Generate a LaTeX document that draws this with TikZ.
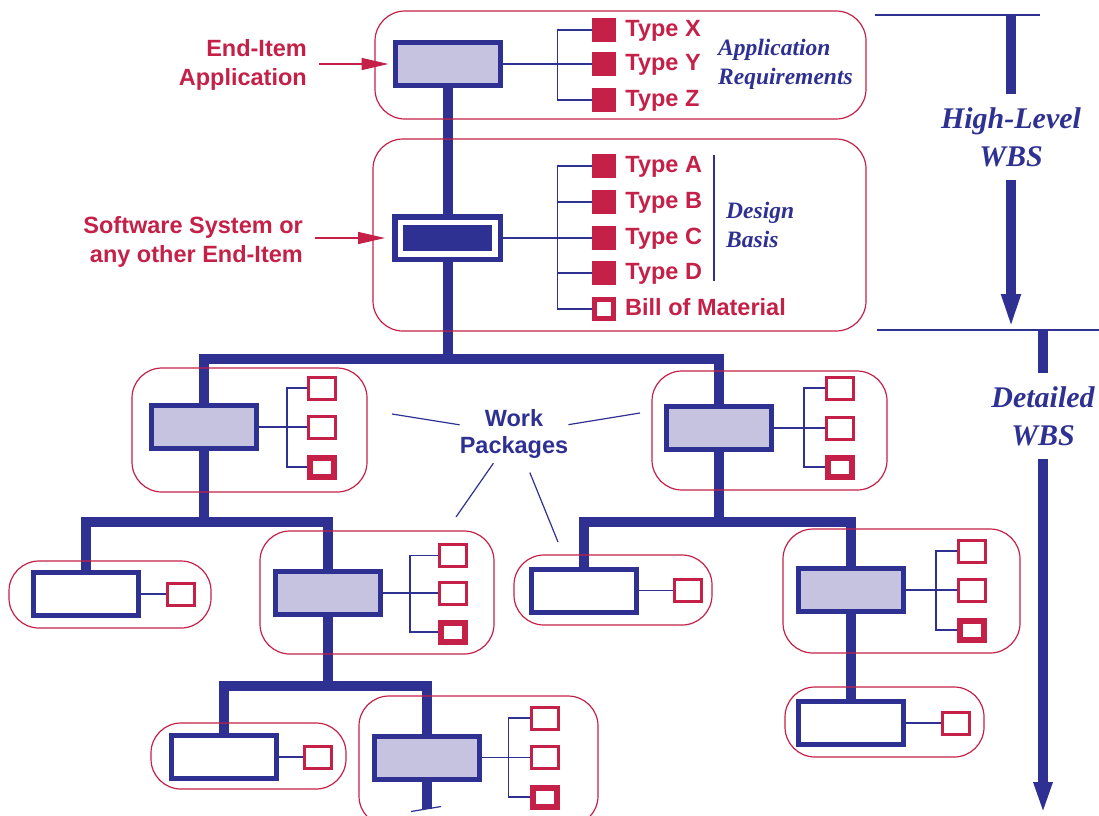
\documentclass[tikz,border=0pt]{standalone}
\usepackage{fontspec}
\setmainfont{Liberation Sans}
\newfontfamily\wbsserif{Liberation Serif}
\usetikzlibrary{arrows.meta, positioning, calc}
\definecolor{wbsblue}{RGB}{46,49,146}
\definecolor{wbslav}{RGB}{197,195,224}
\definecolor{wbsred}{RGB}{196,32,72}
\tikzstyle{package} = [rectangle, 
minimum width=105pt, 
minimum height=43pt, 
inner sep=0pt, 
line width=5pt, 
draw=wbsblue, 
fill=wbslav]
\tikzstyle{leaf} = [package, fill=white]
\tikzstyle{system} = [rectangle, 
minimum width=94.5pt, 
minimum height=31.5pt, 
inner sep=0pt, 
line width=5.5pt, 
draw=wbsblue, 
fill=wbsblue, 
double=white, 
double distance=5.5pt, 
outer sep=8.25pt]
\tikzstyle{req} = [rectangle, minimum size=24pt, inner sep=0pt, fill=wbsred]
\tikzstyle{bom} = [rectangle, minimum size=19pt, inner sep=0pt, line width=5pt, draw=wbsred, fill=white]
\tikzstyle{wpitem} = [rectangle, minimum width=27pt, minimum height=22pt, inner sep=0pt, line width=3pt, draw=wbsred, fill=white]
\tikzstyle{wplast} = [wpitem, minimum width=24pt, minimum height=19pt, line width=6pt]
\tikzstyle{frame} = [draw=wbsred, line width=1.2pt, rounded corners=30pt]
\tikzstyle{trunk} = [line width=10pt, draw=wbsblue, line join=miter]
\tikzstyle{link} = [line width=1.2pt, draw=wbsblue]
\tikzstyle{redtext} = [text=wbsred, inner sep=0pt, font=\fontsize{23.5}{29}\selectfont\bfseries]
\tikzstyle{typelabel} = [redtext, text height=17pt, text depth=4pt]
\tikzstyle{bluetext} = [text=wbsblue, font=\fontsize{23.5}{27}\selectfont\bfseries]
\tikzstyle{note} = [text=wbsblue, inner sep=0pt, align=left, font=\wbsserif\fontsize{23.5}{29}\selectfont\bfseries\itshape]
\tikzstyle{wbslevel} = [text=wbsblue, inner xsep=0pt, inner ysep=13pt, align=center, font=\wbsserif\fontsize{30}{38}\selectfont\bfseries\itshape]
\tikzstyle{pointer} = [line width=1.5pt, draw=wbsred, -{Triangle[length=27pt, width=12pt]}]
\tikzstyle{bigarrow} = [line width=10pt, draw=wbsblue, -{Triangle[length=36pt, width=17pt]}]
\begin{document}
\begin{tikzpicture}[x=1pt, y=-1pt]
  \clip (0,0) rectangle (1099,815);

  % high-level WBS
  \node (app) [package] at (447.5,64) {};
  \node (sys) [system] at (447.5,238) {};

  \node (applbl) [redtext, align=right, anchor=east] at (307,65) {End-Item\\Application};
  \node (syslbl) [redtext, align=right, anchor=east] at (303,241.5) {Software System or\\any other End-Item};
  \draw [pointer, shorten <=12pt, shorten >=4pt] (applbl.east |- app.west) -- (app.west);
  \draw [pointer, shorten <=12pt, shorten >=7pt] (syslbl.east |- sys.west) -- (sys.west);

  \node (tX) [req] at (604,30) {};
  \node (tY) [req] at (604,64) {};
  \node (tZ) [req] at (604,100) {};
  \node (tXl) [typelabel, right=9pt of tX] {Type X};
  \node (tYl) [typelabel, right=9pt of tY] {Type Y};
  \node (tZl) [typelabel, right=9pt of tZ] {Type Z};
  \draw [link] (app.east) -- (tY.west);
  \draw [link] (tX.west) -- ++(-34,0) |- (tZ.west);
  \node (appreq) [note, anchor=west] at (718,64.5) {Application\\Requirements};

  \node (tA) [req] at (604,166) {};
  \node (tB) [req] at (604,202) {};
  \node (tC) [req] at (604,238) {};
  \node (tD) [req] at (604,273) {};
  \node (bill) [bom] at (604,309) {};
  \node (tAl) [typelabel, right=9pt of tA] {Type A};
  \node (tBl) [typelabel, right=9pt of tB] {Type B};
  \node (tCl) [typelabel, right=9pt of tC] {Type C};
  \node (tDl) [typelabel, right=9pt of tD] {Type D};
  \node (billl) [typelabel, right=9pt of bill] {Bill of Material};
  \draw [link] (sys.east) -- (tC.west);
  \draw [link] (tA.west) -- ++(-34,0) |- (bill.west);
  \draw [link] (tB.west) -- ++(-34,0);
  \draw [link] (tD.west) -- ++(-34,0);
  \draw [link] (714,155) -- (714,281);
  \node (basis) [note, anchor=west] at (726,225) {Design\\Basis};

  % detailed WBS
  \node (wpA) [package] at (204,427) {};
  \node (wpB) [package] at (718.5,428) {};
  \node (a1) [wpitem] at (322,388) {};
  \node (a2) [wpitem] at (322,427) {};
  \node (a3) [wplast] at (322,467) {};
  \node (b1) [wpitem] at (840,388) {};
  \node (b2) [wpitem] at (840,428) {};
  \node (b3) [wplast] at (840,467) {};
  \draw [link] (wpA.east) -- (a2.west);
  \draw [link] (a1.west) -- ++(-20,0) |- (a3.west);
  \draw [link] (wpB.east) -- (b2.west);
  \draw [link] (b1.west) -- ++(-21,0) |- (b3.west);

  \node (lfA) [leaf] at (86,594) {};
  \node (wpC) [package] at (328,593) {};
  \node (lfB) [leaf] at (584,590.5) {};
  \node (wpD) [package] at (851,590) {};
  \node (lfAx) [wpitem] at (181,594) {};
  \node (lfBx) [wpitem] at (688,590.5) {};
  \node (c1) [wpitem] at (453,555.5) {};
  \node (c2) [wpitem] at (453,593) {};
  \node (c3) [wplast] at (453,632) {};
  \node (d1) [wpitem] at (972,551) {};
  \node (d2) [wpitem] at (972,590) {};
  \node (d3) [wplast] at (972,630) {};
  \draw [link] (lfA.east) -- (lfAx.west);
  \draw [link] (lfB.east) -- (lfBx.west);
  \draw [link] (wpC.east) -- (c2.west);
  \draw [link] (c1.west) -- ++(-28,0) |- (c3.west);
  \draw [link] (wpD.east) -- (d2.west);
  \draw [link] (d1.west) -- ++(-21,0) |- (d3.west);

  \node (lfC) [leaf] at (224,757) {};
  \node (wpE) [package] at (427,757.5) {};
  \node (lfD) [leaf] at (851,723) {};
  \node (lfCx) [wpitem] at (318,757) {};
  \node (lfDx) [wpitem] at (956,723) {};
  \node (e1) [wpitem] at (544.5,718) {};
  \node (e2) [wpitem] at (544.5,757.5) {};
  \node (e3) [wplast] at (544.5,797) {};
  \draw [link] (lfC.east) -- (lfCx.west);
  \draw [link] (lfD.east) -- (lfDx.west);
  \draw [link] (wpE.east) -- (e2.west);
  \draw [link] (e1.west) -- ++(-21,0) |- (e3.west);

  % tree
  \draw [trunk] (app.south) -- (sys.north);
  \draw [trunk] (sys.south) -- ++(0,97) coordinate (split1);
  \draw [trunk] (wpA.north) |- (split1) -| (wpB.north);
  \draw [trunk] (wpA.south) -- ++(0,71) coordinate (split2);
  \draw [trunk] (lfA.north) |- (split2) -| (wpC.north);
  \draw [trunk] (wpB.south) -- ++(0,70) coordinate (split3);
  \draw [trunk] (lfB.north) |- (split3) -| (wpD.north);
  \draw [trunk] (wpD.south) -- (lfD.north);
  \draw [trunk] (wpC.south) -- ++(0,69) coordinate (split4);
  \draw [trunk] (lfC.north) |- (split4) -| (wpE.north);
  \draw [trunk] (wpE.south) -- ++(0,27) coordinate (cut);
  \draw [link] ($(cut)+(-16,3)$) -- ($(cut)+(14,-2)$);

  % work packages
  \node (wp) [bluetext, align=center, inner xsep=0pt, inner ysep=5pt] at (514,433.5) {Work\\Packages};
  \coordinate (wpToA) at (392,414);
  \coordinate (wpToB) at (640,413);
  \coordinate (wpToC) at (456,517);
  \coordinate (wpToD) at (558,542);
  \draw [link] (wp) -- (wpToA);
  \draw [link] (wp) -- (wpToB);
  \draw [link] (wp) -- (wpToC);
  \draw [link, shorten <=10pt] (wp) -- (wpToD);

  % frames
  \draw [frame] (375,11) rectangle (866,119);
  \draw [frame] (373,139) rectangle (866,331);
  \draw [frame] (132,368) rectangle (367,492);
  \draw [frame] (652,371) rectangle (887,490);
  \draw [frame] (9,561) rectangle (211,628);
  \draw [frame] (260,531) rectangle (494,654);
  \draw [frame] (514,555) rectangle (712,625);
  \draw [frame] (783,529) rectangle (1020,653);
  \draw [frame] (151,723) rectangle (346,789);
  \draw [frame] (359,696) rectangle (598,826);
  \draw [frame] (785,687) rectangle (984,757);

  % levels
  \node (hl) [wbslevel] at (1011,137) {High-Level\\WBS};
  \node (dt) [wbslevel] at (1043,416) {Detailed\\WBS};
  \coordinate (hlstart) at (1011,15);
  \coordinate (hlend) at (1011,330);
  \coordinate (dtstart) at (1043,330);
  \coordinate (dtend) at (1043,814);
  \draw [link] (875,15) -- (1040,15);
  \draw [link] (877,330) -- (1099,330);
  \draw [trunk] (hlstart) -- (hl);
  \draw [bigarrow] (hl) -- (hlend);
  \draw [trunk] (dtstart) -- (dt);
  \draw [bigarrow, -{Triangle[length=32pt, width=17pt]}] (dt) -- (dtend);

\end{tikzpicture}
\end{document}
